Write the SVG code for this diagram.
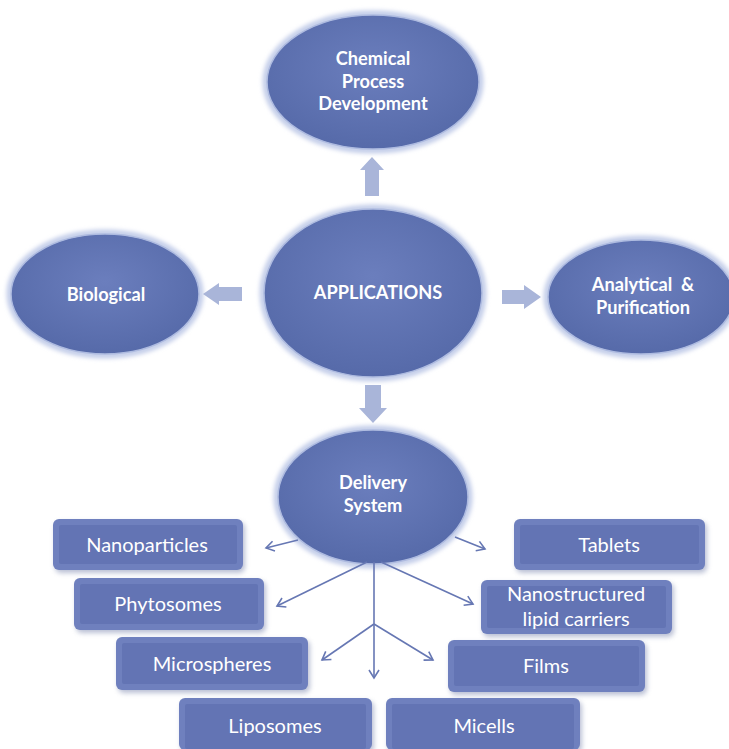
<svg xmlns="http://www.w3.org/2000/svg" width="729" height="749" viewBox="0 0 729 749">
<defs>
<radialGradient id="eg" cx="0.5" cy="0.4" r="0.6">
<stop offset="0" stop-color="#6b7ebd"/>
<stop offset="1" stop-color="#566aa9"/>
</radialGradient>
<filter id="glow" x="-20%" y="-20%" width="140%" height="140%">
<feGaussianBlur stdDeviation="2"/>
</filter>
<filter id="sh" x="-20%" y="-20%" width="140%" height="140%">
<feGaussianBlur stdDeviation="2.5"/>
</filter>
<marker id="ah" markerWidth="12" markerHeight="12" refX="9" refY="6" orient="auto" markerUnits="userSpaceOnUse">
<path d="M1,1 L9,6 L1,11" fill="none" stroke="#6677b3" stroke-width="1.6"/>
</marker>
<style>
.glow{fill:none;stroke:#c3cde9;stroke-width:7}
.ell{fill:url(#eg);stroke:#aebbe0;stroke-width:1.5}
.t{fill:#ffffff;font-family:Lato,"Open Sans","Liberation Sans",sans-serif;font-weight:700;font-size:18.2px;text-anchor:middle}
.bt{fill:#ffffff;font-family:Lato,"Open Sans","Liberation Sans",sans-serif;font-size:20px;text-anchor:middle}
.bo{fill:#6f80be}
.bi{fill:#6374b4}
.bs{fill:#8b95b8;opacity:0.6}
.blk{fill:#a9b5d9}
.cn{fill:none;stroke:#6677b3;stroke-width:1.6}
</style>
</defs>
<rect width="729" height="749" fill="#ffffff"/>

<g id="n-chemical">
<ellipse cx="373" cy="82" rx="107" ry="68" class="glow" filter="url(#glow)"/>
<ellipse cx="373" cy="82" rx="106" ry="67" class="ell"/>
<text class="t" x="373" y="65">Chemical</text>
<text class="t" x="373" y="87.5">Process</text>
<text class="t" x="373" y="110">Development</text>
</g>

<g id="n-applications">
<ellipse cx="373" cy="293" rx="110" ry="85" class="glow" filter="url(#glow)"/>
<ellipse cx="373" cy="293" rx="109" ry="84" class="ell"/>
<text class="t" x="378" y="299">APPLICATIONS</text>
</g>

<g id="n-biological">
<ellipse cx="105" cy="294" rx="95" ry="61" class="glow" filter="url(#glow)"/>
<ellipse cx="105" cy="294" rx="94" ry="60" class="ell"/>
<text class="t" x="106" y="301">Biological</text>
</g>

<g id="n-analytical">
<ellipse cx="641" cy="297" rx="94" ry="58" class="glow" filter="url(#glow)"/>
<ellipse cx="641" cy="297" rx="93" ry="57" class="ell"/>
<text class="t" x="643" y="291" xml:space="preserve">Analytical  &amp;</text>
<text class="t" x="643" y="313.5">Purification</text>
</g>

<g id="n-delivery">
<ellipse cx="373" cy="497" rx="96" ry="68" class="glow" filter="url(#glow)"/>
<ellipse cx="373" cy="497" rx="95" ry="67" class="ell"/>
<text class="t" x="373" y="489">Delivery</text>
<text class="t" x="373" y="511.5">System</text>
</g>

<g id="n-nanoparticles">
<rect x="55" y="522" width="190" height="51" rx="6" class="bs" filter="url(#sh)"/>
<rect x="53" y="519" width="190" height="51" rx="6" class="bo"/>
<rect x="59" y="525" width="178" height="39" rx="2" class="bi"/>
<text class="bt" x="147" y="552">Nanoparticles</text>
</g>
<g id="n-tablets">
<rect x="516" y="522" width="191" height="51" rx="6" class="bs" filter="url(#sh)"/>
<rect x="514" y="519" width="191" height="51" rx="6" class="bo"/>
<rect x="520" y="525" width="179" height="39" rx="2" class="bi"/>
<text class="bt" x="609" y="552">Tablets</text>
</g>
<g id="n-phytosomes">
<rect x="76" y="581" width="190" height="52" rx="6" class="bs" filter="url(#sh)"/>
<rect x="74" y="578" width="190" height="52" rx="6" class="bo"/>
<rect x="80" y="584" width="178" height="40" rx="2" class="bi"/>
<text class="bt" x="168" y="611">Phytosomes</text>
</g>
<g id="n-nlc">
<rect x="483" y="583" width="191" height="54" rx="6" class="bs" filter="url(#sh)"/>
<rect x="481" y="580" width="191" height="54" rx="6" class="bo"/>
<rect x="487" y="586" width="179" height="42" rx="2" class="bi"/>
<text class="bt" x="576" y="601">Nanostructured</text>
<text class="bt" x="576" y="626">lipid carriers</text>
</g>
<g id="n-microspheres">
<rect x="118" y="640" width="192" height="53" rx="6" class="bs" filter="url(#sh)"/>
<rect x="116" y="637" width="192" height="53" rx="6" class="bo"/>
<rect x="122" y="643" width="180" height="41" rx="2" class="bi"/>
<text class="bt" x="212" y="671">Microspheres</text>
</g>
<g id="n-films">
<rect x="450" y="643" width="197" height="52" rx="6" class="bs" filter="url(#sh)"/>
<rect x="448" y="640" width="197" height="52" rx="6" class="bo"/>
<rect x="454" y="646" width="185" height="40" rx="2" class="bi"/>
<text class="bt" x="546" y="673">Films</text>
</g>
<g id="n-liposomes">
<rect x="181" y="701" width="193" height="52" rx="6" class="bs" filter="url(#sh)"/>
<rect x="179" y="698" width="193" height="52" rx="6" class="bo"/>
<rect x="185" y="704" width="181" height="45" rx="2" class="bi"/>
<text class="bt" x="275" y="733">Liposomes</text>
</g>
<g id="n-micells">
<rect x="388" y="701" width="194" height="52" rx="6" class="bs" filter="url(#sh)"/>
<rect x="386" y="698" width="194" height="52" rx="6" class="bo"/>
<rect x="392" y="704" width="182" height="45" rx="2" class="bi"/>
<text class="bt" x="484" y="733">Micells</text>
</g>

<g id="connectors">
<path class="blk" d="M372,157 L384,170 L379,170 L379,196 L365,196 L365,170 L360,170 Z"/>
<path class="blk" d="M203,294 L219,283 L219,287 L242,287 L242,301 L219,301 L219,305 Z"/>
<path class="blk" d="M541,297 L524,285 L524,290 L502,290 L502,304 L524,304 L524,309 Z"/>
<path class="blk" d="M373,423 L387,408 L381,408 L381,385 L365,385 L365,408 L359,408 Z"/>
<line class="cn" x1="298" y1="540" x2="266" y2="548" marker-end="url(#ah)"/>
<line class="cn" x1="455" y1="537" x2="485" y2="549" marker-end="url(#ah)"/>
<line class="cn" x1="367" y1="562" x2="277" y2="606" marker-end="url(#ah)"/>
<line class="cn" x1="381" y1="562" x2="473" y2="604" marker-end="url(#ah)"/>
<line class="cn" x1="374" y1="562" x2="374" y2="678" marker-end="url(#ah)"/>
<line class="cn" x1="374" y1="624" x2="322" y2="660" marker-end="url(#ah)"/>
<line class="cn" x1="374" y1="624" x2="433" y2="660" marker-end="url(#ah)"/>
</g>
</svg>
